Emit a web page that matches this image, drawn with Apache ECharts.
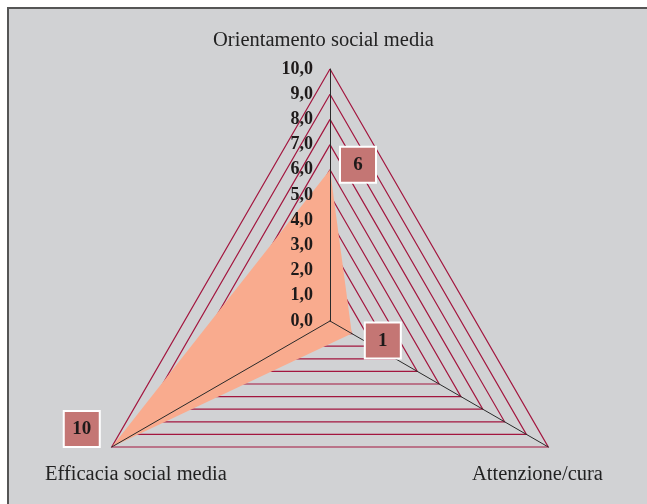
<!DOCTYPE html>
<html>
<head>
<meta charset="utf-8">
<script src="https://cdn.jsdelivr.net/npm/echarts@6/dist/echarts.min.js"></script>
<style>
  html, body { margin: 0; padding: 0; background: #ffffff; overflow: hidden; }
  #panel { position: absolute; left: 7px; top: 7px; width: 660px; height: 520px;
           background: #d1d2d4; border-top: 2px solid #555; border-left: 2px solid #555; }
  #chart { position: absolute; left: 0; top: 0; width: 647px; height: 504px; }
</style>
</head>
<body>
<div id="panel"></div>
<div id="chart"></div>
<script>
// Radar indicators (counter-clockwise from the top) and the scored values
const categories = ['Orientamento social media', 'Efficacia social media', 'Attenzione/cura'];
const scores = [6, 10, 1];
const scaleMax = 10;
const levelCount = 10;

const serif = '"Liberation Serif", "DejaVu Serif", serif';
const fmtTick = v => Number(v).toFixed(1).replace('.', ',');

const radarBase = {
  center: [330, 321],
  radius: 252,
  startAngle: 90,
  shape: 'polygon',
  splitNumber: levelCount,
  axisName: { show: false },
  axisTick: { show: false },
  splitArea: { show: false }
};

// value box beside each vertex
const boxOffsets = [[28, -5], [-30, -18], [31, 7]];
const labelItems = categories.map((c, i) => ({
  value: scores,
  symbol: 'circle',
  symbolSize: 1,
  itemStyle: { color: 'rgba(0,0,0,0)' },
  lineStyle: { width: 0, opacity: 0 },
  areaStyle: { opacity: 0 },
  label: {
    show: true,
    position: 'inside',
    offset: boxOffsets[i],
    formatter: p => (p.dimensionIndex === i ? '{b|' + scores[i] + '}' : ''),
    rich: {
      b: {
        width: 34, height: 34, align: 'center', verticalAlign: 'middle', lineHeight: 34,
        backgroundColor: '#c47674', borderColor: '#ffffff', borderWidth: 2,
        fontFamily: serif, fontWeight: 'bold', fontSize: 19, color: '#1e1a1a'
      }
    }
  }
}));

const chart = echarts.init(document.getElementById('chart'), null, { renderer: 'canvas' });
chart.setOption({
  backgroundColor: 'transparent',
  animation: false,
  radar: [
    Object.assign({}, radarBase, {
      z: 0,
      indicator: categories.map(name => ({ name: name, min: 0, max: scaleMax })),
      axisLine: { show: false },
      splitLine: { lineStyle: { color: '#a3163f', width: 1.2 } },
      axisLabel: { show: false }
    }),
    // spokes and scale labels drawn above the filled area
    Object.assign({}, radarBase, {
      z: 5,
      indicator: categories.map((name, i) => ({
        name: name, min: 0, max: scaleMax, axisLabel: { show: i === 0 }
      })),
      axisLine: { lineStyle: { color: '#2a2a2a', width: 1 } },
      splitLine: { show: false },
      axisLabel: {
        show: false,
        margin: 17,
        formatter: fmtTick,
        fontFamily: serif,
        fontWeight: 'bold',
        fontSize: 18,
        color: '#1e1a1a'
      }
    })
  ],
  series: [{
    type: 'radar',
    radarIndex: 0,
    z: 2,
    symbol: 'none',
    lineStyle: { width: 0 },
    areaStyle: { color: '#f9ab8e', opacity: 1 },
    data: [{ value: scores }]
  }, {
    type: 'radar',
    radarIndex: 0,
    z: 6,
    silent: true,
    data: labelItems
  }],
  graphic: [
    { type: 'text', left: 'center', top: 30,
      style: { text: categories[0], font: '20.5px ' + serif, fill: '#222' } },
    { type: 'text', left: 45, top: 464,
      style: { text: categories[1], font: '20.5px ' + serif, fill: '#222' } },
    { type: 'text', left: 472, top: 464,
      style: { text: categories[2], font: '20.5px ' + serif, fill: '#222' } }
  ]
});
</script>
</body>
</html>
